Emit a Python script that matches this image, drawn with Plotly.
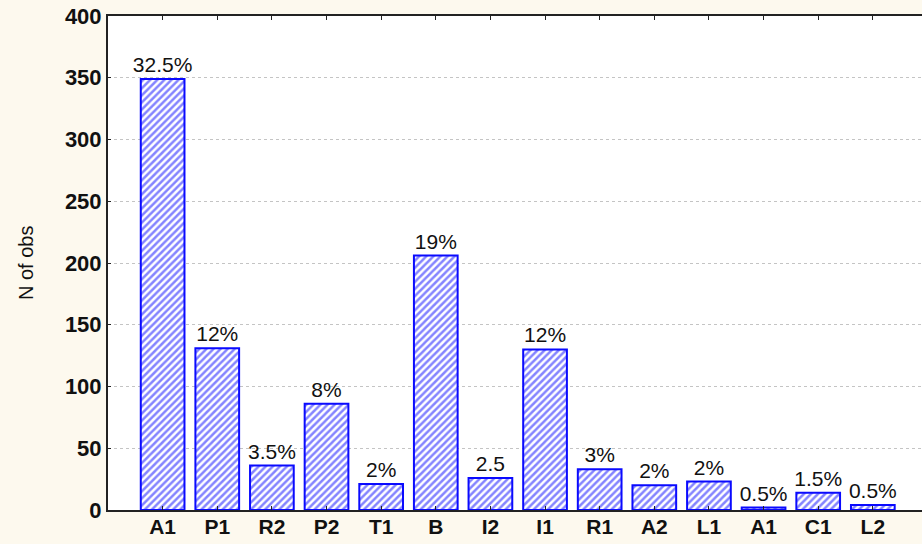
import plotly.graph_objects as go

categories = ["A1", "P1", "R2", "P2", "T1", "B", "I2", "I1", "R1", "A2", "L1", "A1", "C1", "L2"]
counts = [349, 131, 36, 86, 21, 206, 26, 130, 33, 20, 23, 2, 14, 4]
pct_labels = ["32.5%", "12%", "3.5%", "8%", "2%", "19%", "2.5", "12%", "3%", "2%", "2%", "0.5%", "1.5%", "0.5%"]
y_ticks = [0, 50, 100, 150, 200, 250, 300, 350, 400]

BLUE = "#0a0aff"
PAPER = "#FDF9EE"
FONT = "Liberation Sans, Arial, sans-serif"

positions = list(range(len(categories)))

fig = go.Figure(
    go.Bar(
        x=positions,
        y=counts,
        width=0.8,
        text=pct_labels,
        textposition="outside",
        cliponaxis=False,
        constraintext="none",
        textfont=dict(family=FONT, size=21, color="#111111"),
        marker=dict(
            color="white",
            line=dict(color=BLUE, width=2),
            pattern=dict(shape="/", fgcolor=BLUE, bgcolor="white", size=5, solidity=0.5),
        ),
        hoverinfo="skip",
    )
)

fig.update_layout(
    width=922,
    height=544,
    paper_bgcolor=PAPER,
    plot_bgcolor="white",
    margin=dict(l=108, r=0, t=16, b=34),
    font=dict(family=FONT, color="#111111", size=20),
    showlegend=False,
    annotations=[
        dict(
            text="N of obs",
            xref="paper", yref="paper",
            x=0, y=0.5, xshift=-82, xanchor="center", yanchor="middle",
            textangle=-90,
            showarrow=False,
            font=dict(size=20, color="#111111"),
        )
    ],
)

fig.update_xaxes(
    range=[-1, 13.9],
    tickvals=positions,
    ticktext=[f"<b>{c}</b>" for c in categories],
    tickfont=dict(size=21, color="#111111"),
    ticklabelstandoff=-3,
    automargin=False,
    showline=True,
    linecolor="#222222",
    linewidth=2,
    mirror="ticks",
    ticks="inside",
    ticklen=4,
    tickcolor="#222222",
    showgrid=False,
    zeroline=False,
)

fig.update_yaxes(
    range=[0, 400],
    tickvals=y_ticks,
    ticktext=[f"<b>{v}</b>" for v in y_ticks],
    tickfont=dict(size=22, color="#111111"),
    automargin=False,
    showline=True,
    linecolor="#222222",
    linewidth=2,
    ticks="inside",
    ticklen=3,
    tickcolor="#222222",
    showgrid=True,
    gridcolor="#c4c4c4",
    griddash="dot",
    gridwidth=1,
    zeroline=False,
)

# the default page has an 8px body margin; drop it so the figure sits at the corner
fig.write_html(
    "out.html",
    config={"displayModeBar": False},
    post_script="document.body.style.margin='0';",
)
